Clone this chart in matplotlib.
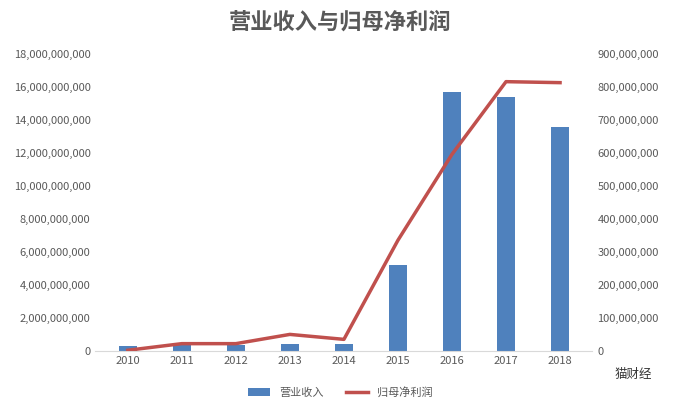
import matplotlib
matplotlib.use("Agg")
import matplotlib.pyplot as plt
from matplotlib.ticker import FuncFormatter

plt.rcParams['font.family'] = ['Noto Sans CJK SC', 'DejaVu Sans']

years = ['2010', '2011', '2012', '2013', '2014', '2015', '2016', '2017', '2018']
revenue = [0.28e9, 0.35e9, 0.35e9, 0.4e9, 0.4e9, 5.2e9, 15.65e9, 15.4e9, 13.55e9]
profit = [2e6, 22e6, 22e6, 50e6, 35e6, 335e6, 595e6, 815e6, 812e6]

fig = plt.figure(figsize=(6.81, 4.09), dpi=100)
ax = fig.add_axes([0.14, 0.142, 0.73, 0.727])
ax2 = ax.twinx()
x = range(len(years))
b = ax.bar(x, revenue, width=0.33, color='#4f81bd', label='营业收入')
l, = ax2.plot(x, profit, color='#c0504d', lw=2.5, label='归母净利润')
ax.set_ylim(0, 18e9)
ax.set_yticks([i * 2e9 for i in range(10)])
ax2.set_ylim(0, 900e6)
ax2.set_yticks([i * 100e6 for i in range(10)])
fmt = FuncFormatter(lambda v, p: f'{int(v):,}')
ax.yaxis.set_major_formatter(fmt)
ax2.yaxis.set_major_formatter(fmt)
ax.set_xticks(list(x))
ax.set_xticklabels(years)
ax.set_xlim(-0.6, 8.6)
for a in (ax, ax2):
    for s in a.spines.values():
        s.set_visible(False)
    a.tick_params(length=0, labelsize=8, colors='#595959')
ax.spines['bottom'].set_visible(True)
ax.spines['bottom'].set_color('#d9d9d9')
fig.text(0.5, 0.945, '营业收入与归母净利润', ha='center', va='center', fontsize=16, fontweight='bold', color='#595959')
fig.legend([b, l], ['营业收入', '归母净利润'], loc='center', bbox_to_anchor=(0.5, 0.04), ncol=2, frameon=False, fontsize=8, labelcolor='#595959')
fig.text(0.93, 0.075, '猫财经', fontsize=9, color='#333333', ha='center')
fig.savefig('out.png', dpi=100)
